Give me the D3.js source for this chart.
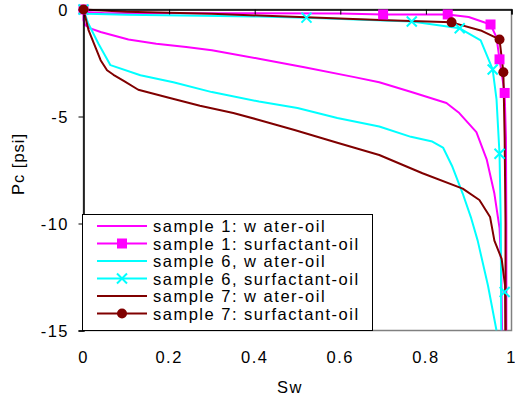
<!DOCTYPE html>
<html>
<head>
<meta charset="utf-8">
<script src="https://cdn.jsdelivr.net/npm/d3@7"></script>
<style>
  body { margin: 0; background: #fff; }
  text { font-family: "Liberation Sans", Arial, sans-serif; fill: #000; }
</style>
</head>
<body>
<svg id="chart" width="515" height="400"></svg>
<script>
// sample 1: water-oil
var s1wSw = [0, 0.0, 0.004, 0.016, 0.04, 0.105, 0.17, 0.24, 0.30, 0.41, 0.516, 0.633, 0.691, 0.768, 0.848, 0.878, 0.918, 0.942, 0.96, 0.972, 0.976, 0.978]
var s1wPc = [0, -0.5, -0.73, -0.88, -1.05, -1.4, -1.6, -1.75, -1.9, -2.3, -2.7, -3.16, -3.4, -3.87, -4.37, -4.84, -5.73, -7.0, -8.6, -10.2, -12, -15]
// sample 1: surfactant-oil
var s1sSw = [0, 0.005, 0.05, 0.4, 0.6, 0.70, 0.851, 0.90, 0.951, 0.965, 0.972, 0.984, 0.987, 0.988, 0.988]
var s1sPc = [0, -0.12, -0.17, -0.18, -0.19, -0.23, -0.23, -0.35, -0.7, -1.3, -2.33, -3.9, -6, -10, -15]
var s1sMkSw = [0, 0.70, 0.851, 0.951, 0.972, 0.984]
var s1sMkPc = [0, -0.23, -0.23, -0.7, -2.33, -3.9]
// sample 6, water-oil
var s6wSw = [0, 0.01, 0.035, 0.063, 0.133, 0.21, 0.30, 0.41, 0.50, 0.593, 0.691, 0.765, 0.815, 0.84, 0.862, 0.886, 0.905, 0.921, 0.945, 0.965]
var s6wPc = [0, -0.6, -1.6, -2.6, -3.07, -3.4, -3.86, -4.3, -4.6, -5.07, -5.47, -5.95, -6.17, -6.45, -7.35, -8.6, -9.7, -10.8, -12.9, -15]
// sample 6, surfactant-oil
var s6sSw = [0, 0.01, 0.1, 0.41, 0.521, 0.767, 0.879, 0.928, 0.956, 0.965, 0.972, 0.975, 0.976]
var s6sPc = [0, -0.2, -0.25, -0.33, -0.38, -0.56, -0.88, -1.44, -2.8, -4.2, -6.74, -10, -15]
var s6sMkSw = [0, 0.521, 0.767, 0.879, 0.956, 0.972, 0.984]
var s6sMkPc = [0, -0.38, -0.56, -0.88, -2.8, -6.74, -13.2]
// sample 7: water-oil
var s7wSw = [0, 0.012, 0.04, 0.055, 0.07, 0.095, 0.128, 0.195, 0.272, 0.35, 0.41, 0.493, 0.593, 0.691, 0.792, 0.886, 0.925, 0.95, 0.96, 0.977, 0.985, 0.986]
var s7wPc = [0, -0.98, -2.37, -2.84, -3.05, -3.35, -3.75, -4.1, -4.5, -4.84, -5.16, -5.63, -6.23, -6.8, -7.65, -8.37, -8.9, -9.7, -10.8, -11.65, -12.9, -15]
// sample 7: surfactant-oil
var s7sSw = [0, 0.1, 0.3, 0.41, 0.709, 0.86, 0.928, 0.972, 0.981, 0.984, 0.986, 0.986]
var s7sPc = [0, -0.1, -0.2, -0.28, -0.5, -0.6, -0.98, -1.4, -2.93, -6, -10, -15]
var s7sMkSw = [0, 0.86, 0.972, 0.981]
var s7sMkPc = [0, -0.6, -1.4, -2.93]

var legendLabels = ["sample 1: w ater-oil", "sample 1: surfactant-oil", "sample 6, w ater-oil",
                    "sample 6, surfactant-oil", "sample 7: w ater-oil", "sample 7: surfactant-oil"]
var xTicks = [0, 0.2, 0.4, 0.6, 0.8, 1]
var yTicks = [0, -5, -10, -15]

function zip(a, b) { return a.map(function (v, i) { return [v, b[i]] }) }

var series = [
  { line: zip(s1wSw, s1wPc), color: "#ff00ff", marker: null },
  { line: zip(s1sSw, s1sPc), marks: zip(s1sMkSw, s1sMkPc), color: "#ff00ff", marker: "square" },
  { line: zip(s6wSw, s6wPc), color: "#00ffff", marker: null },
  { line: zip(s6sSw, s6sPc), marks: zip(s6sMkSw, s6sMkPc), color: "#00ffff", marker: "x" },
  { line: zip(s7wSw, s7wPc), color: "#800000", marker: null },
  { line: zip(s7sSw, s7sPc), marks: zip(s7sMkSw, s7sMkPc), color: "#800000", marker: "circle" }
]

var pLeft = 83.5, pRight = 511.5, pTop = 9.5, pBottom = 330.5
var fs = 16.5, ls = 1.5
var x = d3.scaleLinear().domain([0, 1]).range([pLeft, pRight])
var y = d3.scaleLinear().domain([-15, 0]).range([pBottom, pTop])

var svg = d3.select("#chart")

// plot frame
svg.append("rect")
    .attr("x", pLeft).attr("y", pTop)
    .attr("width", pRight - pLeft).attr("height", pBottom - pTop)
    .attr("fill", "#fff").attr("stroke", "#808080").attr("stroke-width", 1.5)

svg.append("defs").append("clipPath").attr("id", "clip")
  .append("rect").attr("x", pLeft - 6).attr("y", pTop - 6)
  .attr("width", pRight - pLeft + 12).attr("height", pBottom - pTop + 6)

var line = d3.line().x(function (d) { return x(d[0]) }).y(function (d) { return y(d[1]) })

var plot = svg.append("g").attr("clip-path", "url(#clip)")

// x axis sits at Pc = 0 (top), ticks pointing down, labels at the bottom
var xAxis = svg.append("g").attr("transform", "translate(0," + y(0) + ")")
    .call(d3.axisBottom(x).tickValues(xTicks).tickSize(5).tickFormat(""))
xAxis.select(".domain").attr("stroke", "#000").attr("stroke-width", 1.5)
xAxis.selectAll(".tick line").attr("stroke", "#000")

svg.append("g").selectAll("text").data(xTicks).enter().append("text")
    .attr("x", function (d) { return x(d) }).attr("y", 363)
    .attr("text-anchor", "middle").attr("font-size", fs).attr("letter-spacing", ls)
    .text(function (d) { return d })

var yAxis = svg.append("g").attr("transform", "translate(" + pLeft + ",0)")
    .call(d3.axisLeft(y).tickValues(yTicks).tickSize(5).tickFormat(""))
yAxis.select(".domain").attr("stroke", "#000").attr("stroke-width", 1.5)
yAxis.selectAll(".tick line").attr("stroke", "#000")

svg.append("g").selectAll("text").data(yTicks).enter().append("text")
    .attr("x", 69).attr("y", function (d) { return y(d) + 6 })
    .attr("text-anchor", "end").attr("font-size", fs).attr("letter-spacing", ls)
    .text(function (d) { return d })

series.forEach(function (s) {
  plot.append("path").datum(s.line)
      .attr("d", line).attr("fill", "none")
      .attr("stroke", s.color).attr("stroke-width", 2)
      .attr("stroke-linejoin", "round")
})

function drawMarker(g, type, color, cx, cy) {
  if (type === "square") {
    g.append("rect").attr("x", cx - 5).attr("y", cy - 5).attr("width", 10).attr("height", 10)
        .attr("fill", color)
  } else if (type === "circle") {
    g.append("circle").attr("cx", cx).attr("cy", cy).attr("r", 5).attr("fill", color)
  } else if (type === "x") {
    g.append("path").attr("d", "M" + (cx - 5) + "," + (cy - 5) + "L" + (cx + 5) + "," + (cy + 5) +
        "M" + (cx - 5) + "," + (cy + 5) + "L" + (cx + 5) + "," + (cy - 5))
        .attr("stroke", color).attr("stroke-width", 2)
  }
}

series.forEach(function (s) {
  if (!s.marker) return
  s.marks.forEach(function (d) { drawMarker(svg, s.marker, s.color, x(d[0]), y(d[1])) })
})

// legend
var lg = svg.append("g")
lg.append("rect").attr("x", 82.5).attr("y", 214.5).attr("width", 290).attr("height", 116)
    .attr("fill", "#fff").attr("stroke", "#000").attr("stroke-width", 1)
series.forEach(function (s, i) {
  var ly = 226 + i * 17.5
  lg.append("line").attr("x1", 97).attr("x2", 147).attr("y1", ly).attr("y2", ly)
      .attr("stroke", s.color).attr("stroke-width", 2)
  if (s.marker) drawMarker(lg, s.marker, s.color, 122, ly)
  lg.append("text").attr("x", 153).attr("y", ly + 6).attr("font-size", fs)
      .attr("letter-spacing", ls).text(legendLabels[i])
})

svg.append("text").attr("x", 290).attr("y", 393).attr("text-anchor", "middle")
    .attr("font-size", fs).attr("letter-spacing", ls).text("Sw")
svg.append("text").attr("transform", "translate(24,164) rotate(-90)")
    .attr("text-anchor", "middle").attr("font-size", fs).attr("letter-spacing", 1).text("Pc [psi]")
</script>
</body>
</html>
